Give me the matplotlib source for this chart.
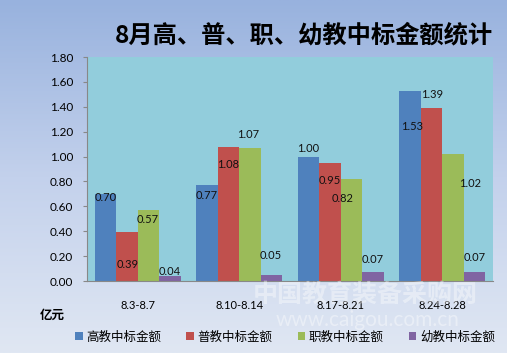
import matplotlib
matplotlib.use("Agg")
import matplotlib.pyplot as plt
import numpy as np
from matplotlib.colors import LinearSegmentedColormap

plt.rcParams['font.family'] = ['Lato', 'Noto Sans CJK SC', 'DejaVu Sans']

categories = ["8.3-8.7", "8.10-8.14", "8.17-8.21", "8.24-8.28"]
series_names = ["高教中标金额", "普教中标金额", "职教中标金额", "幼教中标金额"]
gaojiao = [0.70, 0.77, 1.00, 1.53]
pujiao = [0.39, 1.08, 0.95, 1.39]
zhijiao = [0.57, 1.07, 0.82, 1.02]
youjiao = [0.04, 0.05, 0.07, 0.07]
yticks = [0.0, 0.2, 0.4, 0.6, 0.8, 1.0, 1.2, 1.4, 1.6, 1.8]

colors = ["#4F81BD", "#C0504D", "#9BBB59", "#8064A2"]
# label offsets in pixels (dx, dy down) relative to bar top
label_offsets = [
    [(0, 4), (0, 10), (-0.5, -7.6), (2, 36)],
    [(1, 31.6), (-0.5, 18.4), (0, 18), (0.5, -14)],
    [(-0.5, 9), (-2, -13), (-8.5, 20), (17, 29)],
    [(0, -5), (-0.5, -19), (0, -13), (0.5, -15)],
]

fig = plt.figure(figsize=(5.07, 3.53), dpi=100)

# gradient background
bg = fig.add_axes([0, 0, 1, 1], zorder=-10)
cmap = LinearSegmentedColormap.from_list("bg", ["#98B2DE", "#C3D1EC", "#E0E7F3"])
grad = np.linspace(0, 1, 256).reshape(-1, 1)
bg.imshow(grad, aspect='auto', cmap=cmap, extent=[0, 1, 0, 1], origin='upper')
bg.axis('off')

ax = fig.add_axes([87/507, 72/353, 406/507, 224/353])
ax.set_facecolor("#92CDDC")

data = [gaojiao, pujiao, zhijiao, youjiao]
x = np.arange(len(categories))
w = 0.212
for i, (vals, name, c) in enumerate(zip(data, series_names, colors)):
    pos = x + (i - 1.5) * w
    ax.bar(pos, vals, width=w, color=c, label=name, zorder=2)
    for j, (px, v) in enumerate(zip(pos, vals)):
        dx, dy = label_offsets[i][j]
        ax.annotate(f"{v:.2f}", (px, v), xytext=(dx, -dy), textcoords='offset pixels',
                    ha='center', va='center', fontsize=8, color='#111111', zorder=3)

ax.set_xlim(-0.5, 3.5)
ax.set_ylim(0, 1.8)
ax.set_yticks(yticks)
ax.set_yticklabels([f"{t:.2f}" for t in yticks], fontsize=8.5)
ax.set_xticks(x)
ax.set_xticklabels(categories, fontsize=8)
ax.tick_params(axis='x', length=0, pad=14)
ax.tick_params(axis='y', length=3, pad=7, color='#888888')
for s in ['top', 'right']:
    ax.spines[s].set_visible(False)
for s in ['left', 'bottom']:
    ax.spines[s].set_color('#888888')
    ax.spines[s].set_linewidth(0.8)

fig.text(493/507, 1 - 35/353, "8月高、普、职、幼教中标金额统计", ha='right', va='center',
         fontsize=17.5, fontweight='bold', family=['Noto Sans CJK SC'])
fig.text(40/507, 1 - 315/353, "亿元", ha='left', va='center', fontsize=9,
         fontweight='bold', family=['Noto Sans CJK SC'])

# watermark
fig.text(365/507, 1 - 296/353, "中国教育装备采购网", ha='center', va='center', fontsize=18,
         fontweight='bold', color='white', alpha=0.4, family=['Noto Sans CJK SC'])
fig.text(368/507, 1 - 320/353, "www.caigou.com.cn", ha='center', va='center', fontsize=15,
         color='white', alpha=0.4)

handles, labels = ax.get_legend_handles_labels()
fig.legend(handles, labels, loc='center', bbox_to_anchor=(285/507, 1 - 337/353), ncol=4,
           frameon=False, fontsize=9, handlelength=0.6, handleheight=0.6,
           handletextpad=0.3, columnspacing=2.0, prop={'family': ['Noto Sans CJK SC'], 'size': 9})

fig.savefig("out.png", dpi=100)
